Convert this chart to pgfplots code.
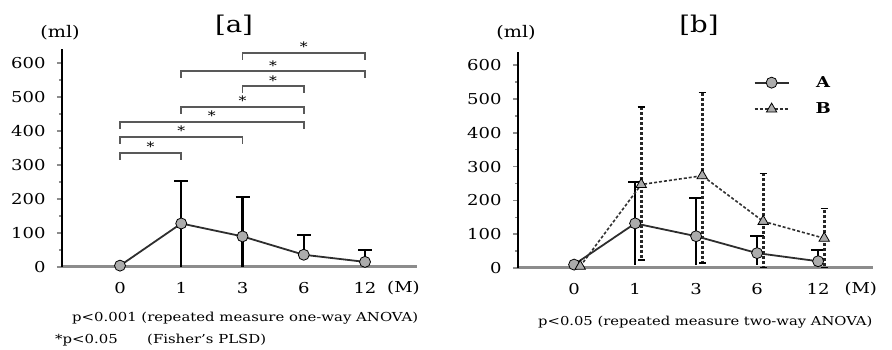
\documentclass[border=0pt]{standalone}
\usepackage{fontspec}
\setmainfont{DejaVu Serif}[FakeStretch=1.2]
\usepackage{pgfplots}
\pgfplotsset{compat=1.18}
\definecolor{ink}{gray}{0.18}
\definecolor{axgray}{gray}{0.55}
\definecolor{brk}{gray}{0.35}
\pgfplotsset{panel/.style={
  scale only axis, clip=false,
  axis lines*=left,
  x axis line style={axgray, line width=3pt},
  y axis line style={black, line width=2.5pt},
  ymin=0, ymax=640,
  ytick={0,100,...,600}, yticklabels={0,100,200,300,400,500,600},
  minor ytick={50,150,...,550},
  tick align=outside, major tick length=5pt, minor tick length=3pt,
  y tick style={axgray, line width=1.5pt},
  xtick={0,1,2,3,4}, xticklabels={0,1,3,6,12},
  x tick style={draw=none},
  tick label style={font=\fontsize{15}{18}\selectfont},
  yticklabel style={xshift=-8pt},
  xticklabel style={yshift=-7pt},
},
upbar/.style={only marks, mark=none, forget plot,
  error bars/.cd, y dir=plus, y explicit,
  error mark options={rotate=90, black, line width=2pt, mark size=7pt},
  error bar style={black, line width=2.2pt}},
lowbar/.style={only marks, mark=none, forget plot,
  error bars/.cd, y dir=minus, y explicit, error mark=none,
  error bar style={black, line width=2.2pt}},
brack/.style={brk, line width=1.6pt, forget plot},
}
\newcommand{\sigstar}[2]{\node[font=\fontsize{13}{13}\selectfont, inner sep=0pt, anchor=south] at (axis cs:#1,#2) {*};}
\begin{document}
\begin{tikzpicture}[x=1pt,y=1pt]
\path[use as bounding box] (0,0) rectangle (892,350);
% ---------------- panel a
\begin{axis}[panel, at={(62pt,83pt)}, anchor=south west,
  width=355pt, height=217.6pt, xmin=-0.947, xmax=4.849]
\addplot[upbar] coordinates {(1,128) +- (0,126) (2,90) +- (0,116) (3,36) +- (0,57) (4,15) +- (0,36)};
\addplot[lowbar] coordinates {(1,128) +- (0,128) (2,90) +- (0,90)};
\addplot[ink, line width=1.8pt, mark=*, mark size=5.5pt, mark options={fill=gray!65, draw=black, line width=0.8pt}]
  coordinates {(0,4) (1,128) (2,90) (3,36) (4,15)};
% significance brackets
\addplot[brack] coordinates {(0,316) (0,336) (1,336) (1,316)};
\addplot[brack] coordinates {(0,363) (0,383) (2,383) (2,363)};
\addplot[brack] coordinates {(0,407) (0,427) (3,427) (3,407)};
\addplot[brack] coordinates {(1,451) (1,471) (3,471) (3,451)};
\addplot[brack] coordinates {(2,512) (2,532) (3,532) (3,512)};
\addplot[brack] coordinates {(1,556) (1,576) (4,576) (4,556)};
\addplot[brack] coordinates {(2,610) (2,630) (4,630) (4,610)};
\sigstar{0.5}{338}\sigstar{1}{385}\sigstar{1.5}{429}\sigstar{2}{473}\sigstar{2.5}{534}\sigstar{2.5}{578}\sigstar{3}{632}
\node[font=\fontsize{15}{18}\selectfont, anchor=west, inner sep=0pt] at (axis cs:4.36,0) [yshift=-21pt] {(M)};
\end{axis}
% ---------------- panel b
\begin{axis}[panel, at={(518pt,82pt)}, anchor=south west,
  width=355pt, height=216.3pt, xmin=-0.92, xmax=4.90,
  legend style={draw=none, fill=none, at={(0.655,0.905)}, anchor=north west,
    font=\fontsize{15}{18}\selectfont\bfseries, row sep=10pt,
    /tikz/every odd column/.append style={column sep=24pt}},
  legend image code/.code={
    \draw[#1, mark=none] (0pt,0pt) -- (34pt,0pt);
    \path[#1] plot coordinates {(17pt,0pt)};}]
\addplot[upbar] coordinates {(1,132) +- (0,121) (2,94) +- (0,112) (3,44) +- (0,50) (4,20) +- (0,33)};
\addplot[lowbar] coordinates {(1,132) +- (0,122) (2,94) +- (0,84) (3,44) +- (0,34)};
\addplot[only marks, mark=none, forget plot,
  error bars/.cd, y dir=both, y explicit,
  error mark options={rotate=90, black, line width=1.4pt, mark size=3.5pt},
  error bar style={gray!30!black, line width=2.8pt, densely dashed}]
  coordinates {(1.1,247) += (0,229) -= (0,223) (2.1,273) += (0,247) -= (0,258) (3.1,138) += (0,141) -= (0,136) (4.1,88) += (0,88) -= (0,86)};
\addplot[ink, line width=1.8pt, mark=*, mark size=5.5pt, mark options={fill=gray!65, draw=black, line width=0.8pt}]
  coordinates {(0,10) (1,132) (2,94) (3,44) (4,20)};
\addlegendentry{A}
\addplot[ink, line width=1.6pt, densely dashed, mark=triangle*, mark size=6pt, mark options={solid, fill=gray!65, draw=black, line width=0.8pt}]
  coordinates {(0.1,5) (1.1,247) (2.1,273) (3.1,138) (4.1,88)};
\addlegendentry{B}
\node[font=\fontsize{15}{18}\selectfont, anchor=west, inner sep=0pt] at (axis cs:4.43,0) [yshift=-21pt] {(M)};
\end{axis}
% ---------------- texts
\node[font=\fontsize{16}{19}\selectfont] at (60,317) {(ml)};
\node[font=\fontsize{23}{26}\selectfont] at (234,325) {[a]};
\node[font=\fontsize{16}{19}\selectfont] at (516,317) {(ml)};
\node[font=\fontsize{23}{26}\selectfont] at (699,325) {[b]};
\node[anchor=west, font=\fontsize{12.4}{15}\selectfont, inner sep=0pt] at (72,32) {p<0.001 (repeated measure one-way ANOVA)};
\node[anchor=west, font=\fontsize{12.4}{15}\selectfont, inner sep=0pt] at (55,10) {*p<0.05};
\node[anchor=west, font=\fontsize{12.4}{15}\selectfont, inner sep=0pt] at (147,10) {(Fisher's PLSD)};
\node[anchor=west, font=\fontsize{12.3}{15}\selectfont, inner sep=0pt] at (538,28) {p<0.05 (repeated measure two-way ANOVA)};
\end{tikzpicture}
\end{document}
